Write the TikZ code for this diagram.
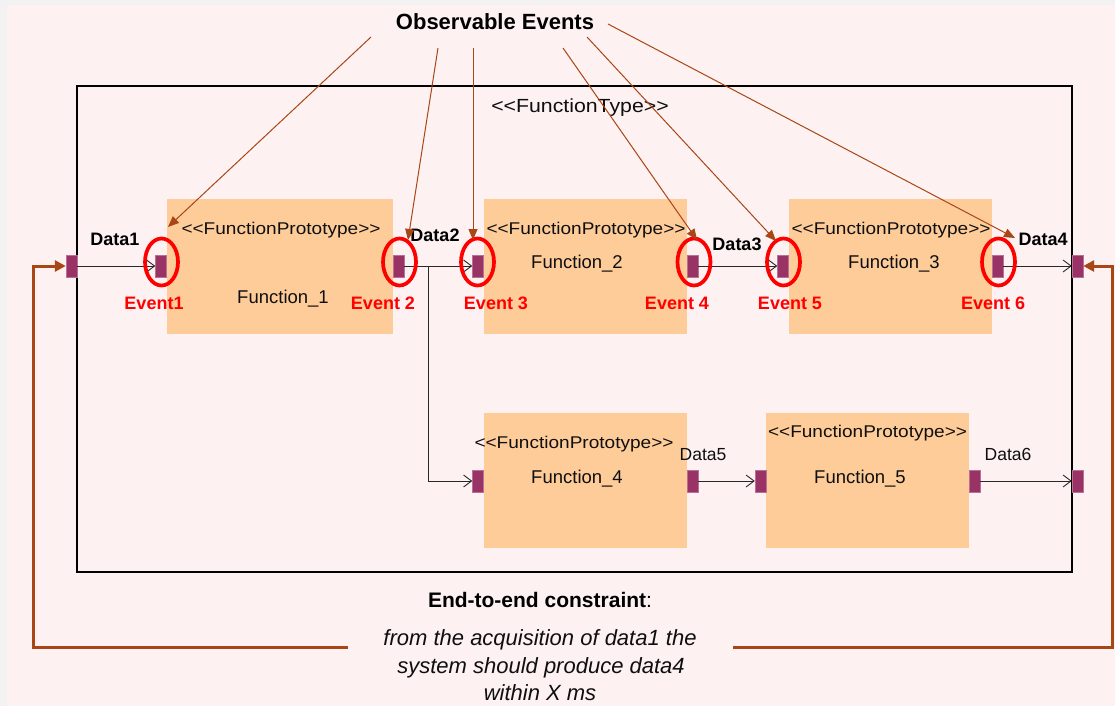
\documentclass[tikz,border=0pt]{standalone}
\usepackage{fontspec}
\setmainfont{Liberation Sans}
\newfontfamily\wfont[FakeStretch=1.12]{Liberation Sans}
\usetikzlibrary{arrows.meta,shapes.geometric}
\definecolor{bgpink}{RGB}{253,241,241}
\definecolor{bggray}{RGB}{242,242,242}
\definecolor{peach}{RGB}{254,204,153}
\definecolor{portc}{RGB}{153,51,102}
\definecolor{brownc}{RGB}{168,70,22}
\definecolor{evred}{RGB}{255,0,0}
\definecolor{txt}{RGB}{15,15,15}
\definecolor{linec}{RGB}{40,40,40}
\newcommand{\dlt}{<\kern0pt<}
\newcommand{\dgt}{>\kern0pt>}
\begin{document}
\begin{tikzpicture}[x=1pt,y=-1pt,
 fbox/.style={fill=peach, draw=none, minimum width=203pt, minimum height=135pt, inner sep=0pt},
 port/.style={fill=portc, draw=portc!70!white, line width=0.4pt, minimum width=11pt, minimum height=22pt, inner sep=0pt},
 evring/.style={ellipse, draw=evred, line width=3.7pt, minimum width=33pt, minimum height=47pt, inner sep=0pt},
 evlabel/.style={text=evred, font=\fontsize{18}{20}\selectfont\bfseries, anchor=base, inner sep=0pt},
 datab/.style={font=\fontsize{18}{20}\selectfont\bfseries, anchor=base, inner sep=0pt},
 datan/.style={font=\fontsize{17.5}{20}\selectfont, text=txt, anchor=base, inner sep=0pt},
 proto/.style={font=\wfont\fontsize{17}{19}\selectfont, text=txt, anchor=base, inner sep=0pt},
 fname/.style={font=\fontsize{18.5}{21}\selectfont, text=txt, anchor=base, inner sep=0pt},
 conn/.style={draw=linec, line width=0.9pt, -{Straight Barb[length=8pt,width=12pt,line width=0.9pt]}},
 obsarrow/.style={draw=brownc, line width=1pt, -{Triangle[length=11pt,width=9pt]}},
 cons/.style={draw=brownc, line width=3pt, -{Triangle[length=11pt,width=11pt]}}
]
\useasboundingbox (0,0) rectangle (1115,706);
\fill[bggray] (0,0) rectangle (1115,706);
\fill[bgpink] (7,5) rectangle (1115,706);

% frame
\node[draw=black, line width=1.2pt, minimum width=995pt, minimum height=486pt, inner sep=0pt] (frame) at (574.5,329) {};
\node[font=\wfont\fontsize{19}{21}\selectfont, text=txt, anchor=base, inner sep=0pt] (ftype) at (580,113) {\dlt FunctionType\dgt};

% function boxes
\node[fbox, minimum width=226pt] (f1) at (280,266.5) {};
\node[fbox] (f2) at (585.5,266.5) {};
\node[fbox] (f3) at (890.5,266.5) {};
\node[fbox] (f4) at (585.5,480.5) {};
\node[fbox] (f5) at (867.5,480.5) {};

% ports
\node[port] (pOL) at (71.5,266) {};
\node[port] (p1i) at (161,266) {};
\node[port] (p1o) at (398.5,266) {};
\node[port] (p2i) at (478,266) {};
\node[port] (p2o) at (692.5,266) {};
\node[port] (p3i) at (783,266) {};
\node[port] (p3o) at (997.5,266) {};
\node[port] (pOR) at (1077.5,266) {};
\node[port] (p4i) at (478,481) {};
\node[port] (p4o) at (692.5,481) {};
\node[port] (p5i) at (760.5,481) {};
\node[port] (p5o) at (974.5,481) {};
\node[port] (pOR2) at (1077.5,481) {};

% connectors
\draw[conn] (pOL.east) -- (p1i.west);
\draw[conn] (p1o.east) -- (p2i.west);
\coordinate (br) at (428,266);
\draw[conn] (br) |- (p4i.west);
\draw[conn] (p2o.east) -- (p3i.west);
\draw[conn] (p3o.east) -- (pOR.west);
\draw[conn] (p4o.east) -- (p5i.west);
\draw[conn] (p5o.east) -- (pOR2.west);

% event rings
\node[evring] (e1) at (161.5,262) {};
\node[evring] (e2) at (399.5,262) {};
\node[evring] (e3) at (477.5,262) {};
\node[evring] (e4) at (694,262) {};
\node[evring] (e5) at (783.5,262) {};
\node[evring] (e6) at (998.5,262) {};

% function texts
\node[proto] (pr1) at (281,234) {\dlt FunctionPrototype\dgt};
\node[proto] (pr2) at (586,234) {\dlt FunctionPrototype\dgt};
\node[proto] (pr3) at (891,234) {\dlt FunctionPrototype\dgt};
\node[proto] (pr4) at (574,448) {\dlt FunctionPrototype\dgt};
\node[proto] (pr5) at (867.5,437) {\dlt FunctionPrototype\dgt};
\node[fname] (n1) at (283,303) {Function\_1};
\node[fname] (n2) at (577,268) {Function\_2};
\node[fname] (n3) at (894,268) {Function\_3};
\node[fname] (n4) at (577,483) {Function\_4};
\node[fname] (n5) at (860,483) {Function\_5};

% event labels
\node[evlabel] (l1) at (154,309) {Event1};
\node[evlabel] (l2) at (383,309) {Event 2};
\node[evlabel] (l3) at (496,309) {Event 3};
\node[evlabel] (l4) at (677,309) {Event 4};
\node[evlabel] (l5) at (790,309) {Event 5};
\node[evlabel] (l6) at (993,309) {Event 6};

% data labels
\node[datab] (d1) at (115,245) {Data1};
\node[datab] (d2) at (435,241) {Data2};
\node[datab] (d3) at (737,250) {Data3};
\node[datab] (d4) at (1043,245) {Data4};
\node[datan] (d5) at (703,460) {Data5};
\node[datan] (d6) at (1008,460) {Data6};

% observable events
\node[font=\fontsize{22}{26}\selectfont\bfseries, anchor=base, inner sep=0pt] (obs) at (495,30) {Observable Events};
\coordinate (s1) at (371,37);  \coordinate (t1) at (168,227);
\coordinate (s2) at (438,48);  \coordinate (t2) at (408,240);
\coordinate (s3) at (473,48);  \coordinate (t3) at (473,240);
\coordinate (s4) at (563,48);  \coordinate (t4) at (697,240);
\coordinate (s5) at (587,37);  \coordinate (t5) at (776,241);
\coordinate (s6) at (608,24);  \coordinate (t6) at (1015,238);
\foreach \i in {1,...,6} { \draw[obsarrow] (s\i) -- (t\i); }

% end-to-end constraint
\node[font=\fontsize{21}{25}\selectfont\bfseries, anchor=base, inner sep=0pt] (etoe) at (540,607) {End-to-end constraint\textmd{:}};
\node[font=\fontsize{22}{27}\selectfont\itshape, text=txt, anchor=base, inner sep=0pt] (c1) at (540,645) {from the acquisition of data1 the};
\node[font=\fontsize{22}{27}\selectfont\itshape, text=txt, anchor=base, inner sep=0pt] (c2) at (541,673) {system should produce data4};
\node[font=\fontsize{22}{27}\selectfont\itshape, text=txt, anchor=base, inner sep=0pt] (c3) at (540,700) {within X ms};
\coordinate (cl) at (348,647);
\coordinate (lc) at (33,647);
\coordinate (cr) at (733,647);
\coordinate (rc) at (1112.5,647);
\draw[cons] (cl) -- (lc) |- (pOL.west);
\draw[cons] (cr) -- (rc) |- (pOR.east);
\end{tikzpicture}
\end{document}
